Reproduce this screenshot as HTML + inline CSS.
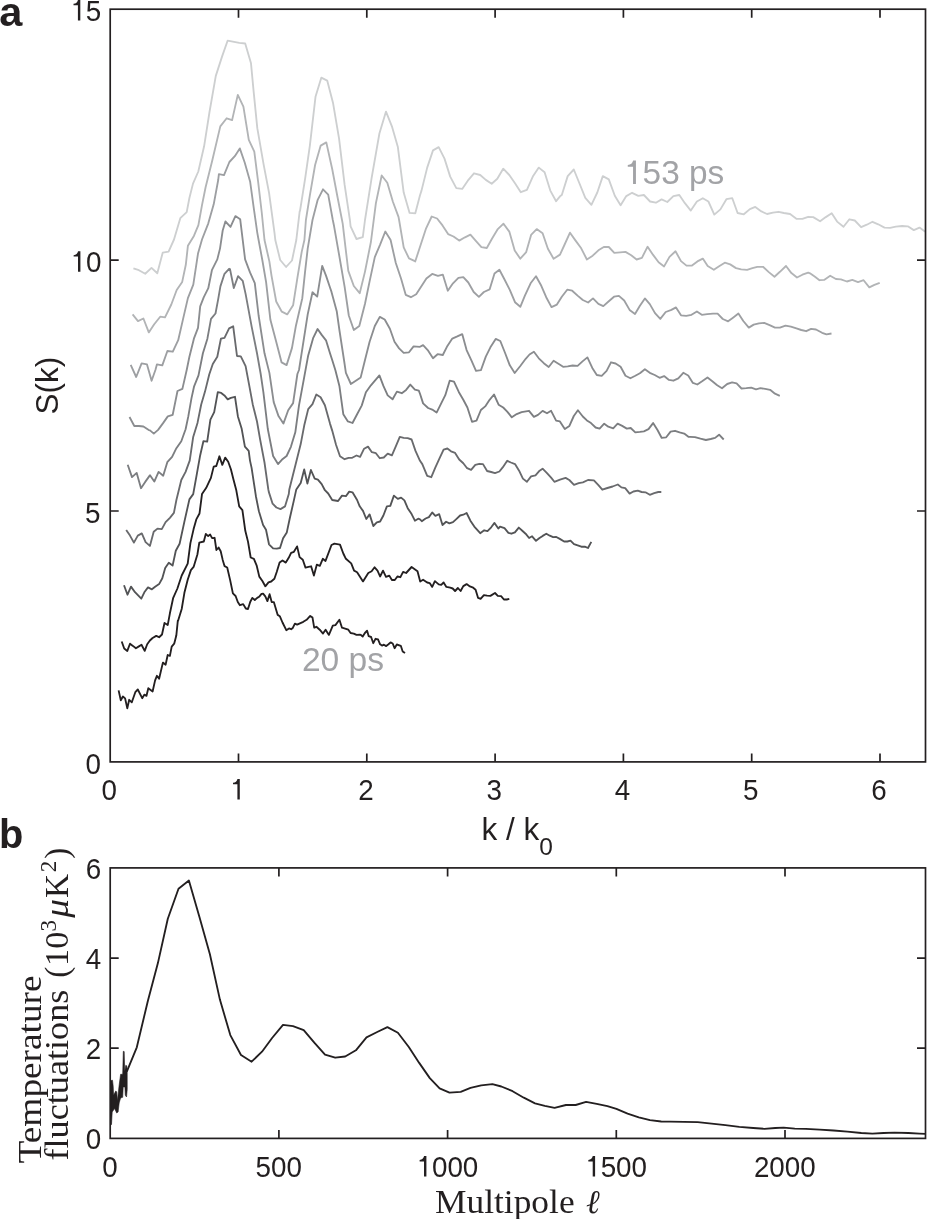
<!DOCTYPE html><html><head><meta charset="utf-8"><style>html,body{margin:0;padding:0;background:#fff;width:927px;height:1219px;overflow:hidden}svg{display:block;will-change:transform}text{font-family:"Liberation Sans",sans-serif;fill:#231f20}.s{font-family:"Liberation Serif",serif}</style></head><body>
<svg width="927" height="1219" viewBox="0 0 927 1219">
<rect width="927" height="1219" fill="#fff"/>
<clipPath id="ca"><rect x="110.2" y="9.2" width="815.3" height="752.6999999999999"/></clipPath>
<g clip-path="url(#ca)" fill="none" stroke-linejoin="round" stroke-linecap="butt">
<polyline points="133.4,268.4 138.9,270.2 145.2,273.8 151.5,267.9 157.3,273.3 162.7,252.7 168.6,251.6 174.0,239.5 180.3,218.2 186.7,212.1 189.4,198.0 193.0,183.6 198.3,171.5 204.1,146.3 209.5,112.0 215.8,75.9 222.2,56.1 227.6,40.7 239.3,42.9 245.2,43.5 251.0,63.3 253.7,92.2 257.3,128.2 263.6,164.3 269.1,193.2 274.5,232.8 275.3,240.0 280.2,260.0 286.1,267.0 292.0,260.5 296.3,240.0 299.7,211.2 300.0,211.0 305.2,178.2 309.9,145.3 315.5,96.8 321.3,77.7 327.2,80.6 333.1,103.3 339.1,138.8 344.6,184.7 349.9,220.0 350.6,226.3 356.5,239.0 362.8,237.2 365.0,220.0 371.6,178.2 379.4,133.5 386.0,111.6 391.9,126.3 397.8,146.7 403.7,192.6 409.6,212.9 415.3,213.3 420.0,195.2 421.5,190.6 427.2,167.6 433.0,150.4 438.7,147.1 444.5,158.6 450.2,176.6 456.3,188.1 462.2,188.9 467.8,180.7 474.0,173.3 480.2,175.0 485.8,179.9 491.7,183.7 497.3,178.8 503.2,168.7 509.3,175.0 515.0,183.2 520.8,192.2 526.9,189.8 532.8,176.6 538.8,167.6 544.6,172.2 550.3,190.6 556.1,201.2 560.0,196.3 561.8,195.0 567.7,176.1 573.8,169.5 579.5,183.5 585.3,197.8 591.4,204.8 597.3,192.5 602.8,176.1 608.8,179.4 614.8,195.8 620.6,205.3 626.3,196.1 632.1,192.8 638.3,195.8 643.9,195.0 650.1,201.5 655.9,202.7 661.6,199.4 667.3,202.0 673.4,196.1 679.3,195.0 684.9,203.2 690.8,210.6 696.9,201.5 702.8,198.2 708.4,201.5 714.3,214.6 720.4,209.4 726.4,199.2 732.3,198.2 737.6,213.0 743.8,214.3 749.9,209.1 755.3,206.9 761.4,211.4 767.1,214.0 772.9,212.7 778.6,211.8 783.9,213.0 790.1,214.0 796.7,218.9 802.4,218.9 808.2,216.8 813.2,217.1 820.1,221.3 825.8,217.1 831.7,213.3 837.1,221.6 843.5,226.8 849.4,219.3 854.8,220.5 861.1,227.2 866.8,224.7 872.5,221.8 878.2,224.3 884.5,227.6 890.1,227.9 895.8,226.6 902.1,226.0 907.8,226.3 913.8,230.1 919.5,227.6 924.9,231.4 928.6,232.3" stroke="#cdcfd0" stroke-width="1.85"/>
<polyline points="132.6,314.4 138.0,321.1 143.4,318.5 148.8,332.4 154.2,324.3 160.2,316.7 165.0,317.4 171.3,304.5 176.7,290.0 182.2,281.9 185.8,264.8 187.9,245.8 193.9,235.9 198.4,225.1 202.0,205.2 205.6,187.2 212.2,160.7 220.3,126.4 226.7,118.3 232.1,120.1 237.8,94.9 243.4,106.6 248.8,139.9 254.3,151.7 258.2,182.3 261.8,213.0 264.5,240.0 269.4,261.6 271.5,275.6 276.2,301.5 281.8,311.7 287.2,314.4 293.1,305.3 297.4,277.8 301.7,251.9 304.4,240.0 305.9,220.0 309.9,195.2 315.1,165.0 320.7,145.6 326.3,142.4 332.2,169.0 337.4,196.5 342.0,220.0 342.7,223.6 345.3,245.9 348.3,270.9 353.8,286.0 359.7,293.2 365.0,271.6 370.9,242.0 375.9,203.1 381.7,175.5 387.3,182.8 392.9,201.8 398.5,216.9 399.1,220.0 403.7,247.3 409.0,258.4 414.9,261.1 415.2,261.5 426.1,228.3 431.7,216.5 437.1,218.5 442.5,225.4 448.1,234.1 453.5,236.5 459.2,240.6 465.0,237.3 470.4,234.6 475.6,240.6 481.4,247.2 486.8,248.0 492.1,238.5 497.8,229.1 503.5,223.7 509.3,231.6 514.7,250.5 520.3,258.7 526.2,252.1 531.1,234.9 536.7,229.1 542.6,233.2 547.9,248.8 553.6,258.7 560.0,254.6 564.4,245.0 570.0,232.7 575.4,240.4 581.2,248.3 586.9,259.5 592.7,255.7 598.4,250.3 603.8,247.0 608.8,247.0 614.3,252.9 620.2,252.4 625.5,251.9 631.2,255.2 636.6,259.5 641.9,257.8 647.6,246.7 653.1,254.9 658.6,262.3 664.1,266.4 669.5,256.9 675.5,251.3 681.0,261.1 686.5,265.6 692.0,265.6 697.4,261.4 702.8,258.6 707.7,266.0 713.8,269.8 719.5,266.0 724.8,262.7 730.2,264.4 736.0,268.1 741.2,269.3 747.1,269.8 752.4,268.1 757.3,266.8 763.0,266.8 768.8,272.1 774.5,276.7 779.9,271.8 786.0,266.0 791.4,273.1 797.0,277.5 802.4,274.7 808.2,272.6 810.0,273.3 815.0,276.8 819.5,280.2 824.1,279.9 830.2,275.8 835.9,279.0 840.9,279.4 846.9,281.5 852.3,279.9 858.0,282.1 863.6,280.2 869.3,287.4 874.4,284.9 879.7,282.8" stroke="#b2b4b6" stroke-width="1.85"/>
<polyline points="130.7,364.9 136.2,377.0 141.6,363.4 147.0,364.4 151.6,380.8 155.4,370.0 156.9,364.4 162.3,365.4 167.4,351.0 172.8,351.7 178.2,340.2 183.1,318.9 187.9,298.1 193.3,284.6 198.0,253.6 202.0,239.5 208.3,223.3 213.7,204.3 218.2,180.0 218.9,174.2 224.0,175.1 229.4,162.0 234.8,156.2 239.8,148.4 244.7,162.5 250.1,181.4 253.7,207.6 257.3,232.8 258.6,240.0 262.4,260.5 266.1,282.1 270.4,319.8 276.4,342.5 281.6,362.4 286.6,365.1 292.0,347.9 295.8,326.3 302.3,298.2 305.0,272.4 307.7,248.6 312.5,220.0 317.7,199.8 323.0,189.3 328.2,194.6 332.8,220.0 334.1,226.3 339.4,256.5 344.6,286.6 348.8,315.5 353.8,330.0 359.3,326.0 365.0,303.7 369.6,281.4 374.8,257.1 380.1,244.6 385.3,231.5 390.6,240.0 395.8,263.0 401.1,278.8 405.7,294.8 410.9,297.2 416.2,294.3 426.4,278.4 432.2,273.9 437.9,275.9 442.8,274.6 447.8,290.7 453.0,283.3 458.4,277.9 463.3,277.2 468.3,282.5 473.7,292.0 478.9,296.9 483.9,292.0 489.6,289.4 494.5,273.4 499.4,269.7 504.4,279.2 509.8,289.9 515.0,302.2 520.3,306.8 524.9,295.6 530.6,283.3 536.0,276.2 541.3,285.8 546.2,297.2 551.5,307.1 556.9,304.6 561.8,296.7 567.2,289.7 572.2,290.7 577.6,295.6 582.8,300.0 588.1,302.5 593.0,298.4 598.4,303.8 603.3,306.1 608.8,301.2 614.0,296.7 618.9,295.9 624.2,300.5 629.6,309.9 635.0,314.0 639.9,305.8 644.9,298.4 649.8,304.1 655.0,313.1 660.3,318.9 665.7,312.0 671.4,309.9 676.0,307.4 681.0,315.3 686.2,315.9 691.5,314.8 696.9,311.5 701.8,314.8 707.2,314.1 713.0,313.6 717.6,313.6 722.8,319.0 728.1,321.3 733.0,317.7 738.4,313.6 743.3,321.0 748.8,327.6 753.7,324.6 758.9,323.4 764.2,322.9 769.6,325.1 775.0,327.6 779.9,327.6 785.5,325.6 790.9,326.7 796.4,328.4 801.3,330.0 806.2,331.2 811.1,328.9 816.0,329.5 822.1,332.8 826.5,334.4 831.5,333.5" stroke="#9d9fa2" stroke-width="1.85"/>
<polyline points="129.5,417.0 134.3,426.0 138.9,426.0 143.4,426.5 148.8,430.1 150.0,430.4 153.8,433.6 158.1,429.9 162.9,423.4 167.8,416.4 172.7,414.8 177.5,391.0 182.4,388.9 186.7,370.0 189.4,356.8 193.9,338.7 198.0,327.9 200.2,306.3 203.8,297.2 208.3,288.2 211.9,270.2 217.3,259.4 220.0,248.6 222.7,230.5 225.4,221.5 230.5,226.9 235.4,216.1 240.2,219.3 245.1,259.4 250.0,272.4 254.8,283.1 258.6,315.5 264.5,353.3 269.4,372.9 273.7,402.1 278.5,416.1 283.4,423.6 288.2,410.2 293.1,403.1 297.4,374.0 299.0,370.0 307.7,314.4 312.5,292.3 317.2,296.6 322.2,265.9 326.0,275.6 330.0,287.5 331.5,291.9 336.8,311.6 339.4,330.0 344.0,360.0 345.9,372.8 350.9,384.0 355.8,380.7 360.7,377.4 365.0,360.0 369.6,341.8 374.8,326.0 379.8,316.9 384.7,319.5 389.9,328.7 394.5,341.8 399.1,348.4 403.7,352.9 409.0,352.3 413.6,346.4 420.0,346.8 423.1,345.1 427.7,350.1 433.0,358.3 437.6,354.2 442.8,355.0 447.4,345.9 452.3,338.6 457.3,336.4 462.2,334.1 466.6,350.1 471.5,360.7 476.0,370.9 480.9,370.2 485.8,356.6 490.4,347.3 495.7,338.9 500.3,341.0 504.9,352.5 509.8,365.3 514.7,373.0 520.3,366.0 525.7,358.8 529.5,354.5 533.9,351.7 538.8,358.3 543.8,363.2 548.7,367.0 553.6,360.7 560.0,364.8 563.1,366.8 567.7,366.3 572.6,365.5 577.6,365.9 582.5,361.4 587.4,357.4 592.3,367.9 596.8,375.0 601.7,375.8 606.6,370.9 611.0,362.3 615.6,363.5 620.6,366.8 625.5,375.8 630.4,378.3 635.3,375.8 639.9,373.3 644.9,369.2 649.8,372.8 654.7,375.0 659.6,377.8 664.1,376.1 669.0,379.9 673.4,380.7 678.3,378.3 683.3,372.8 688.2,375.5 692.9,382.9 697.3,384.5 702.1,381.3 707.5,377.5 712.3,381.3 717.2,385.3 722.0,388.2 727.2,384.0 732.1,382.4 736.6,383.4 741.5,388.5 746.3,388.2 751.2,387.7 756.0,389.4 760.4,388.2 765.2,388.9 770.1,389.8 775.0,393.7 779.8,395.8" stroke="#8b8d90" stroke-width="1.85"/>
<polyline points="127.7,464.8 132.0,477.1 136.7,472.9 141.0,488.2 145.2,481.9 149.7,475.6 150.0,475.2 154.3,481.6 158.6,471.9 163.2,475.7 167.3,462.2 172.1,456.8 176.4,448.2 181.3,441.2 185.6,429.3 188.3,416.4 191.5,398.1 194.0,386.7 198.5,375.4 202.9,353.2 207.4,338.7 211.0,318.9 215.5,313.5 218.2,299.1 220.4,286.4 224.5,273.8 229.1,268.8 230.0,269.1 233.8,288.0 238.1,276.1 242.7,280.8 245.6,293.9 251.6,326.3 257.0,353.3 260.7,374.0 263.4,392.4 267.8,429.0 273.1,456.0 278.0,464.1 281.8,459.8 286.6,456.0 290.9,446.8 295.3,432.3 299.0,405.3 304.4,376.2 308.2,355.4 313.1,338.2 317.6,329.0 321.7,334.9 326.0,340.3 330.0,353.3 332.2,360.0 335.4,370.2 339.4,385.9 343.3,414.2 347.9,421.4 352.5,423.0 357.1,414.2 361.7,405.6 365.9,392.2 370.9,385.3 379.4,375.4 383.4,385.9 387.7,395.4 392.6,399.3 396.9,391.6 401.8,393.2 406.1,389.9 410.3,384.6 414.9,389.6 418.8,390.6 420.0,393.8 423.1,403.4 428.1,408.0 432.2,409.6 436.6,412.6 441.2,403.4 445.3,395.2 449.7,380.7 454.0,381.7 458.9,392.2 463.3,399.8 467.4,407.5 472.0,421.8 476.5,420.6 480.9,410.0 485.2,406.4 489.6,399.8 494.0,394.5 498.6,404.7 503.2,407.5 507.2,411.6 511.8,417.3 516.7,414.1 521.6,412.1 529.0,410.8 533.9,416.9 538.0,414.9 542.6,410.9 547.0,413.2 551.1,410.8 556.1,420.6 559.9,421.4 564.8,429.1 569.4,425.9 573.8,416.0 577.9,410.3 582.8,416.5 586.9,420.4 591.0,423.1 595.6,427.5 599.6,428.6 604.2,423.7 608.3,426.7 613.2,428.3 617.6,423.7 622.2,425.9 626.8,428.6 630.7,428.0 635.3,432.4 639.9,431.9 643.9,431.3 648.5,429.1 653.1,423.1 657.5,430.0 661.6,437.8 666.2,437.3 670.6,431.6 675.0,430.8 679.6,432.4 684.2,433.6 688.7,436.9 690.0,436.8 694.9,437.1 700.5,438.7 705.9,440.0 710.7,439.0 715.1,437.9 719.1,434.7 723.7,439.5" stroke="#7c7e81" stroke-width="1.85"/>
<polyline points="126.2,530.0 130.0,535.6 133.9,542.6 137.8,535.6 141.8,533.4 145.6,542.1 149.9,545.9 153.7,531.8 157.5,528.6 161.8,529.1 165.6,522.1 169.9,517.8 173.9,512.9 176.4,500.0 181.3,480.0 185.6,471.9 189.7,460.6 193.2,436.9 197.5,422.9 201.2,404.5 205.0,391.6 209.3,374.3 212.8,364.0 217.3,356.8 220.9,338.7 224.5,337.8 229.1,328.3 233.2,326.3 237.0,356.0 240.8,356.3 245.6,366.2 248.9,383.7 252.7,404.2 257.0,421.5 260.2,439.8 264.5,462.5 268.3,489.4 268.8,491.9 272.6,503.7 276.4,507.5 280.5,509.1 285.0,506.4 288.8,494.0 289.3,489.4 294.7,467.9 300.7,444.1 304.4,424.7 308.2,409.1 312.5,404.2 316.3,394.5 320.6,397.2 324.9,405.3 330.0,423.6 332.2,430.6 336.1,445.0 340.0,456.2 344.6,459.2 348.6,457.9 352.2,457.8 356.5,455.5 360.1,456.9 364.1,448.7 368.0,446.6 371.9,452.2 375.9,453.2 379.8,458.2 383.8,457.5 387.7,453.6 391.9,455.3 395.8,446.4 399.8,436.9 403.7,437.8 407.7,438.2 411.6,439.5 415.5,450.9 420.0,460.8 422.3,464.1 427.2,475.9 431.3,477.2 435.4,467.4 439.5,458.4 443.6,449.7 447.4,448.5 451.0,451.3 455.1,452.9 459.2,459.5 463.3,463.3 467.1,468.2 471.1,469.9 475.3,464.9 479.3,463.8 483.0,464.1 487.1,471.0 491.2,472.0 495.0,473.1 499.4,471.5 502.7,467.4 507.2,460.8 510.9,462.5 515.0,464.1 519.1,470.7 522.9,478.6 526.9,481.8 531.1,476.4 535.5,475.3 539.6,470.7 542.6,468.7 547.0,473.1 551.1,477.6 554.4,481.8 560.0,479.7 565.6,477.9 569.3,480.0 574.0,484.9 578.7,483.2 582.9,482.3 588.0,480.0 593.9,480.3 598.4,485.2 602.3,489.7 607.4,488.0 612.6,486.5 617.8,484.5 621.4,487.4 625.2,488.2 629.6,493.6 633.4,491.5 637.8,490.7 641.6,492.0 645.5,492.3 649.8,494.8 654.2,493.1 658.3,492.0 661.3,492.0" stroke="#696a6d" stroke-width="1.85"/>
<polyline points="124.0,585.2 127.5,594.7 131.0,586.6 135.0,592.2 141.3,598.7 144.7,591.7 148.0,587.4 151.9,589.3 155.1,586.8 159.1,584.1 162.3,578.2 165.2,568.0 168.8,562.8 172.6,565.6 175.8,550.7 179.6,543.7 184.4,521.6 189.4,499.4 193.2,494.1 196.9,473.6 200.2,455.2 203.4,441.2 207.2,441.7 210.4,419.6 214.2,412.1 217.8,392.1 221.2,392.9 224.4,395.4 227.7,399.3 230.9,397.8 235.0,396.8 237.9,416.4 241.7,428.8 244.9,446.6 248.7,450.9 250.0,460.6 251.6,467.9 255.9,496.2 258.9,511.3 263.1,524.9 266.0,529.7 269.0,544.3 273.1,548.3 276.8,548.6 280.0,548.0 283.1,538.3 286.8,532.4 289.9,517.8 293.6,501.6 296.3,489.4 300.7,483.0 304.2,469.5 307.4,483.5 310.9,470.0 314.7,478.7 317.9,479.7 321.7,484.1 324.9,490.2 328.2,493.5 332.2,500.0 338.1,501.0 342.0,495.6 345.9,496.2 349.2,491.6 352.5,492.3 357.1,500.0 359.7,506.3 363.0,510.9 366.3,519.0 369.6,514.4 373.3,526.0 376.8,522.3 380.1,521.5 383.4,515.5 386.9,506.3 390.3,505.9 393.9,495.6 397.8,498.9 401.1,497.6 404.4,500.4 407.7,508.2 411.6,514.1 414.9,520.7 418.2,518.7 420.0,519.4 421.8,521.2 425.6,518.5 428.9,517.1 432.2,512.5 435.4,515.8 439.2,514.2 442.5,525.0 446.1,521.7 449.4,523.4 453.0,522.1 456.3,519.1 460.1,515.5 463.3,514.7 466.6,513.0 470.4,520.7 474.3,526.6 480.2,533.2 484.2,530.3 487.5,531.1 491.2,527.3 494.5,522.9 498.3,528.6 500.0,526.6 504.5,528.2 508.4,532.8 511.4,533.7 514.9,532.4 518.8,527.6 522.3,530.7 525.6,533.7 529.1,538.0 532.1,536.3 536.0,540.8 539.5,538.0 542.7,535.9 546.3,533.7 549.8,535.7 553.1,537.2 556.3,537.0 559.8,538.9 564.1,541.5 567.3,541.5 570.5,540.6 574.0,544.1 577.7,545.4 581.3,546.7 584.8,546.7 588.0,548.0 591.3,541.9" stroke="#535456" stroke-width="1.85"/>
<polyline points="121.7,641.5 124.2,648.5 127.3,650.9 130.0,643.7 132.9,645.9 135.9,648.3 138.9,646.4 141.5,644.8 144.7,650.9 147.2,644.2 149.9,640.5 152.6,638.0 156.2,635.9 159.1,637.2 162.0,634.5 164.5,623.0 167.7,625.1 169.9,613.3 173.1,598.2 177.4,588.5 181.7,575.5 187.7,563.6 190.4,543.1 193.6,529.1 196.3,519.4 199.5,513.5 202.0,494.1 206.1,488.1 210.9,477.9 213.7,466.6 216.3,466.0 219.4,456.3 222.3,464.9 225.2,457.6 228.2,461.7 230.9,469.2 233.6,480.0 236.3,490.3 239.2,506.4 242.4,510.2 245.3,530.8 248.0,541.6 250.7,557.5 253.9,558.8 256.6,565.3 259.3,576.6 262.4,581.0 265.3,586.3 268.5,582.4 271.2,581.5 274.4,578.8 276.8,571.8 279.6,562.6 282.5,560.5 285.8,562.6 288.7,557.8 291.1,552.9 293.9,551.8 297.1,546.4 299.6,557.1 302.8,559.8 305.5,567.6 308.5,566.8 311.1,566.3 313.9,575.5 316.8,564.7 319.8,565.8 322.8,558.8 325.5,560.9 330.0,549.0 331.5,545.0 334.4,543.7 340.0,544.6 343.3,553.5 345.9,558.8 351.2,563.4 354.1,570.6 357.1,572.2 363.0,581.4 368.3,573.0 371.6,571.2 374.6,567.3 377.5,570.6 380.1,576.5 383.0,570.6 386.0,576.9 389.3,575.6 391.9,580.0 394.8,580.0 397.4,576.5 400.4,577.2 403.1,571.9 406.1,573.0 411.6,567.0 417.5,571.2 420.2,581.5 423.1,579.8 427.2,582.5 429.7,583.1 432.2,586.9 434.9,581.1 438.7,584.4 441.2,584.8 443.6,582.5 446.4,586.9 450.2,587.7 452.7,588.5 455.1,591.0 457.9,588.0 460.6,591.0 463.3,586.1 466.6,584.1 469.9,586.4 473.2,587.7 475.6,589.7 478.1,597.9 480.6,598.9 483.9,595.1 487.1,595.6 490.4,595.9 495.0,593.0 497.8,595.9 501.1,596.2 503.9,599.5 506.8,599.5 509.3,598.9" stroke="#231f20" stroke-width="1.85"/>
<polyline points="118.6,690.4 120.8,700.3 122.9,696.5 125.1,698.4 127.3,708.4 129.2,699.8 131.8,702.3 135.3,692.2 137.8,689.5 142.2,698.2 144.3,694.7 146.5,695.8 148.3,688.2 152.6,691.5 155.1,680.4 156.9,675.8 159.1,678.8 162.9,662.6 165.6,664.7 167.7,655.0 169.9,655.9 171.7,646.6 174.2,643.7 176.3,635.6 177.8,620.8 178.0,621.0 181.7,609.0 184.4,592.8 187.7,579.8 190.9,570.1 193.6,566.9 197.4,554.5 199.3,542.6 203.8,541.5 205.8,534.0 208.2,536.1 210.2,534.6 212.1,538.1 214.6,537.8 216.4,550.0 218.6,547.5 220.7,551.3 222.7,559.9 224.6,566.2 227.2,567.5 230.2,580.4 232.9,593.4 235.6,596.0 237.8,602.0 239.9,605.2 243.2,604.1 245.8,608.5 248.0,609.0 250.2,602.0 252.3,597.9 254.8,600.0 257.2,597.9 259.1,596.8 261.5,593.9 263.1,593.7 265.3,596.4 267.4,601.1 269.6,594.2 271.7,602.0 273.9,602.2 277.7,614.9 279.8,616.2 282.5,622.5 286.3,630.2 289.0,628.4 291.1,629.2 292.8,627.9 294.9,623.6 297.1,624.6 303.3,621.8 306.6,619.8 310.2,615.9 312.5,617.6 314.2,627.7 316.4,626.8 319.7,629.7 323.0,633.6 325.6,629.7 328.9,634.9 332.8,625.7 335.4,625.1 339.4,619.8 342.0,627.7 345.9,628.8 348.3,629.7 350.6,633.0 353.8,633.6 356.5,634.9 360.0,634.6 361.0,635.0 362.7,636.6 364.9,633.0 367.1,630.7 368.7,636.2 371.1,637.0 373.3,643.2 375.5,638.8 378.1,639.5 380.1,644.3 382.0,645.6 383.9,644.7 386.2,646.1 388.5,644.3 390.6,642.4 392.7,643.5 394.6,648.2 396.8,644.5 400.8,645.8 402.7,651.5 405.0,653.1" stroke="#231f20" stroke-width="1.85"/>
</g>
<g fill="none" stroke="#231f20" stroke-linejoin="round">
<polygon points="111.1,1124.6 110.8,1080.6 112.5,1080.2 113.2,1086.2 113.6,1095.2 115.7,1091.1 116.7,1091.8 117.4,1100.8 119.2,1084.8 120.6,1074.3 122.7,1074.3 123.3,1051.3 124.2,1051.6 124.7,1071.5 125.8,1065.2 126.8,1065.9 127.2,1071.5 127.2,1089.7 126.5,1097.0 125.3,1095.2 124.9,1086.9 123.2,1086.9 122.7,1097.3 120.6,1098.0 119.2,1102.9 118.1,1112.0 116.7,1113.0 114.6,1108.5 112.2,1112.0 111.5,1124.6" fill="#231f20" stroke-width="0.6"/>
<polyline points="126.8,1071.7 136.8,1047.3 147.9,1000.7 157.9,963.1 167.8,918.8 178.5,888.8 188.9,880.6 199.3,916.5 209.9,954.2 219.9,999.6 230.3,1035.1 241.0,1055.0 251.6,1061.7 262.0,1051.7 272.1,1038.0 283.0,1024.9 293.0,1026.1 303.7,1030.1 314.3,1042.7 325.0,1054.6 335.2,1057.7 345.2,1056.5 355.9,1050.3 366.5,1037.3 377.2,1032.0 387.4,1027.1 397.9,1032.8 408.8,1047.0 419.2,1062.9 429.8,1078.1 439.6,1088.4 449.5,1092.6 460.7,1091.8 470.5,1087.9 481.2,1085.3 492.4,1084.2 501.3,1086.5 512.6,1091.2 523.8,1097.7 535.0,1103.3 544.8,1105.8 554.6,1107.8 565.9,1105.0 575.7,1105.0 586.1,1101.9 596.7,1103.9 607.4,1106.1 616.4,1108.9 627.6,1113.7 638.8,1117.3 650.0,1120.1 661.2,1121.5 670.0,1121.6 683.9,1121.9 697.7,1122.2 711.6,1123.6 725.4,1125.2 739.3,1126.9 753.2,1128.0 764.3,1128.8 775.3,1128.0 783.7,1127.7 794.8,1128.6 805.8,1128.8 819.7,1129.7 833.6,1130.5 847.4,1131.6 861.3,1133.0 872.4,1133.6 883.5,1133.0 894.6,1132.7 908.4,1133.0 919.5,1133.6 925.5,1133.8" stroke-width="1.85"/>
</g>
<rect x="110.2" y="9.2" width="815.3" height="752.6999999999999" fill="none" stroke="#231f20" stroke-width="1.7"/>
<rect x="110.2" y="867.9" width="815.3" height="270.5000000000001" fill="none" stroke="#231f20" stroke-width="1.7"/>
<path d="M238.5,761.9v-8.5M238.5,9.2v8.5M366.8,761.9v-8.5M366.8,9.2v8.5M495.1,761.9v-8.5M495.1,9.2v8.5M623.4,761.9v-8.5M623.4,9.2v8.5M751.7,761.9v-8.5M751.7,9.2v8.5M880.0,761.9v-8.5M880.0,9.2v8.5M110.2,511.0h8.5M925.5,511.0h-8.5M110.2,260.1h8.5M925.5,260.1h-8.5M278.9,1138.4v-8.5M278.9,867.9v8.5M447.6,1138.4v-8.5M447.6,867.9v8.5M616.3,1138.4v-8.5M616.3,867.9v8.5M785.0,1138.4v-8.5M785.0,867.9v8.5M110.2,1048.2h8.5M925.5,1048.2h-8.5M110.2,958.1h8.5M925.5,958.1h-8.5" stroke="#231f20" stroke-width="1.7" fill="none"/>
<g transform="translate(85.44,774.00) scale(1,1.075)" fill="#231f20"><text x="0" y="0" font-size="27.8" style="fill:#231f20">0</text></g>
<g transform="translate(85.04,523.30) scale(1,1.075)" fill="#231f20"><text x="0" y="0" font-size="27.8" style="fill:#231f20">5</text></g>
<g transform="translate(70.48,271.80) scale(1,1.075)" fill="#231f20"><text x="0" y="0" font-size="27.8" style="fill:#231f20"> 0</text><path transform="translate(0.00,0) scale(0.013574,-0.013574)" d="M555,0L555,1041L231,1041L231,1140C420,1150 520,1250 560,1409L731,1409L731,0Z"/></g>
<g transform="translate(70.38,20.50) scale(1,1.075)" fill="#231f20"><text x="0" y="0" font-size="27.8" style="fill:#231f20"> 5</text><path transform="translate(0.00,0) scale(0.013574,-0.013574)" d="M555,0L555,1041L231,1041L231,1140C420,1150 520,1250 560,1409L731,1409L731,0Z"/></g>
<g transform="translate(101.57,799.50) scale(1,1.075)" fill="#231f20"><text x="0" y="0" font-size="27.8" style="fill:#231f20">0</text></g>
<g transform="translate(229.87,799.50) scale(1,1.075)" fill="#231f20"><text x="0" y="0" font-size="27.8" style="fill:#231f20"> </text><path transform="translate(0.00,0) scale(0.013574,-0.013574)" d="M555,0L555,1041L231,1041L231,1140C420,1150 520,1250 560,1409L731,1409L731,0Z"/></g>
<g transform="translate(358.17,799.50) scale(1,1.075)" fill="#231f20"><text x="0" y="0" font-size="27.8" style="fill:#231f20">2</text></g>
<g transform="translate(486.47,799.50) scale(1,1.075)" fill="#231f20"><text x="0" y="0" font-size="27.8" style="fill:#231f20">3</text></g>
<g transform="translate(614.77,799.50) scale(1,1.075)" fill="#231f20"><text x="0" y="0" font-size="27.8" style="fill:#231f20">4</text></g>
<g transform="translate(743.07,799.50) scale(1,1.075)" fill="#231f20"><text x="0" y="0" font-size="27.8" style="fill:#231f20">5</text></g>
<g transform="translate(871.37,799.50) scale(1,1.075)" fill="#231f20"><text x="0" y="0" font-size="27.8" style="fill:#231f20">6</text></g>
<g transform="translate(85.64,1149.20) scale(1,1.075)" fill="#231f20"><text x="0" y="0" font-size="27.8" style="fill:#231f20">0</text></g>
<g transform="translate(85.64,1059.04) scale(1,1.075)" fill="#231f20"><text x="0" y="0" font-size="27.8" style="fill:#231f20">2</text></g>
<g transform="translate(85.64,968.88) scale(1,1.075)" fill="#231f20"><text x="0" y="0" font-size="27.8" style="fill:#231f20">4</text></g>
<g transform="translate(85.64,878.72) scale(1,1.075)" fill="#231f20"><text x="0" y="0" font-size="27.8" style="fill:#231f20">6</text></g>
<g transform="translate(102.27,1176.60) scale(1,1.075)" fill="#231f20"><text x="0" y="0" font-size="27.8" style="fill:#231f20">0</text></g>
<g transform="translate(255.51,1176.60) scale(1,1.075)" fill="#231f20"><text x="0" y="0" font-size="27.8" style="fill:#231f20">500</text></g>
<g transform="translate(416.48,1176.60) scale(1,1.075)" fill="#231f20"><text x="0" y="0" font-size="27.8" style="fill:#231f20"> 000</text><path transform="translate(0.00,0) scale(0.013574,-0.013574)" d="M555,0L555,1041L231,1041L231,1140C420,1150 520,1250 560,1409L731,1409L731,0Z"/></g>
<g transform="translate(585.18,1176.60) scale(1,1.075)" fill="#231f20"><text x="0" y="0" font-size="27.8" style="fill:#231f20"> 500</text><path transform="translate(0.00,0) scale(0.013574,-0.013574)" d="M555,0L555,1041L231,1041L231,1140C420,1150 520,1250 560,1409L731,1409L731,0Z"/></g>
<g transform="translate(753.88,1176.60) scale(1,1.075)" fill="#231f20"><text x="0" y="0" font-size="27.8" style="fill:#231f20">2000</text></g>
<text x="-0.8" y="25.9" font-size="41.5" font-weight="bold">a</text>
<text x="-1.0" y="848.2" font-size="39.8" font-weight="bold">b</text>
<text transform="translate(58,385.7) rotate(-90)" font-size="31.5" text-anchor="middle">S(k)</text>
<text x="481.5" y="840" font-size="31.5">k / k<tspan font-size="24.5" dy="15">0</tspan></text>
<g transform="translate(624.00,184.00) scale(1,1.02)" fill="#a2a3a6"><text x="0" y="0" font-size="33.4" style="fill:#a2a3a6"> 53 ps</text><path transform="translate(0.00,0) scale(0.016309,-0.016309)" d="M555,0L555,1041L231,1041L231,1140C420,1150 520,1250 560,1409L731,1409L731,0Z"/></g>
<g transform="translate(301.90,670.80) scale(1,1.01)" fill="#a2a3a6"><text x="0" y="0" font-size="33.6" style="fill:#a2a3a6">20 ps</text></g>
<g transform="rotate(-90)">
<text class="s" x="-1163.4" y="40.5" font-size="33" textLength="188" lengthAdjust="spacingAndGlyphs">Temperature</text>
<text class="s" x="-1160.6" y="68.3" font-size="33" textLength="171" lengthAdjust="spacingAndGlyphs">fluctuations</text>
<text class="s" x="-977.8" y="68.3" font-size="33">(</text>
<text class="s" x="-965.9" y="68.3" font-size="33" textLength="34.3" lengthAdjust="spacingAndGlyphs">10</text>
<text class="s" x="-931.6" y="56.2" font-size="23">3</text>
<text class="s" x="-917.8" y="68.3" font-size="33" textLength="18.8" lengthAdjust="spacingAndGlyphs" font-style="italic">μ</text>
<text class="s" x="-897.9" y="68.3" font-size="33" textLength="24.2" lengthAdjust="spacingAndGlyphs">K</text>
<text class="s" x="-872.2" y="56.2" font-size="23">2</text>
<text class="s" x="-858.8" y="68.3" font-size="33">)</text>
</g>
<text class="s" x="435" y="1212.6" font-size="33" textLength="139.6" lengthAdjust="spacingAndGlyphs">Multipole</text>
<text class="s" x="586" y="1212.6" font-size="33" font-style="italic">ℓ</text>
</svg></body></html>
